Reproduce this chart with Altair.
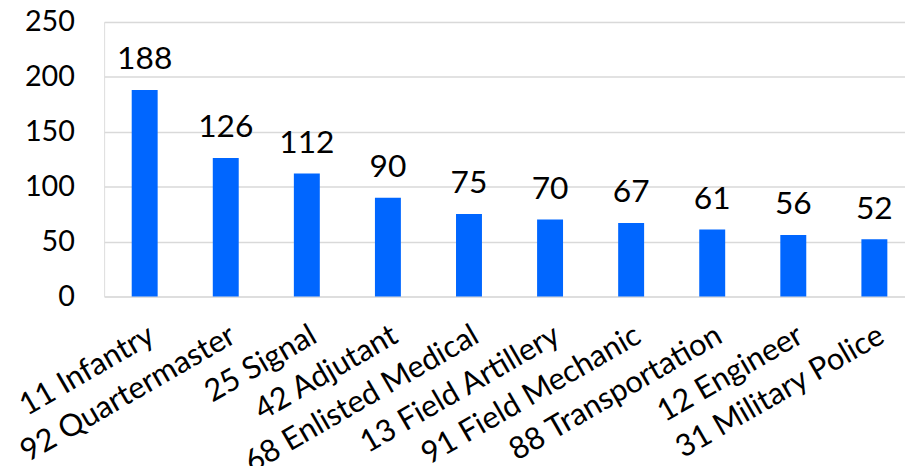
import altair as alt
import pandas as pd

categories = ["11 Infantry", "92 Quartermaster", "25 Signal", "42 Adjutant",
              "68 Enlisted Medical", "13 Field Artillery", "91 Field Mechanic",
              "88 Transportation", "12 Engineer", "31 Military Police"]
counts = [188, 126, 112, 90, 75, 70, 67, 61, 56, 52]
y_ticks = [0, 50, 100, 150, 200, 250]

df = pd.DataFrame({"mos": categories, "count": counts})

FONT = "Lato"

base = alt.Chart(df).encode(
    x=alt.X("mos:N", sort=categories,
            scale=alt.Scale(range=[0, 818], paddingInner=0.68, paddingOuter=0.34),
            axis=alt.Axis(title=None, labelAngle=330, labelAlign="right", labelBaseline="top",
                          labelFontSize=31, labelFont=FONT, labelColor="black",
                          ticks=False, domain=False, labelPadding=24, labelLimit=0)),
    y=alt.Y("count:Q", scale=alt.Scale(domain=[0, 250], nice=False),
            axis=alt.Axis(values=y_ticks, title=None, labelFontSize=29, labelFont=FONT,
                          labelColor="black", ticks=False, domain=False, labelPadding=30,
                          gridColor="#d9d9d9", gridWidth=1.5)),
)

bars = base.mark_bar(color="#0066ff")
labels = base.mark_text(dy=-21, baseline="alphabetic", align="center", fontSize=32,
                        font=FONT, color="black").encode(text="count:Q")

chart = (bars + labels).properties(
    width=808, height=277,
    autosize=alt.AutoSizeParams(type="none"),
    padding={"left": 97, "top": 12, "right": 0, "bottom": 169},
).configure_view(stroke=None).configure(background="white")

chart.save("out.html", embed_options={"renderer": "svg", "actions": False})
